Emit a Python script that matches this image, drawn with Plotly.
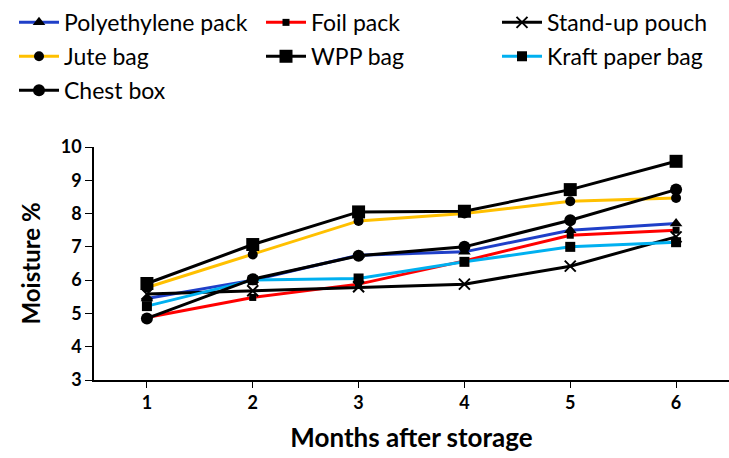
import plotly.graph_objects as go

months = [1, 2, 3, 4, 5, 6]

polyethylene_pack = [5.45, 6.0, 6.75, 6.85, 7.5, 7.7]
foil_pack = [4.88, 5.48, 5.88, 6.58, 7.35, 7.5]
stand_up_pouch = [5.58, 5.68, 5.8, 5.88, 6.42, 7.3]
jute_bag = [5.78, 6.77, 7.78, 8.0, 8.37, 8.47]
wpp_bag = [5.9, 7.07, 8.05, 8.07, 8.72, 9.57]
kraft_paper_bag = [5.22, 6.0, 6.05, 6.55, 7.0, 7.14]
chest_box = [4.85, 6.03, 6.73, 7.0, 7.8, 8.72]

# name, values, line colour, marker symbol, marker size, legend column
series = [
    ("Polyethylene pack", polyethylene_pack, "#1f3fc8", "triangle-up", 11, "legend"),
    ("Foil pack", foil_pack, "#ff0000", "square", 7, "legend2"),
    ("Stand-up pouch", stand_up_pouch, "#000000", "x-thin-open", 11, "legend3"),
    ("Jute bag", jute_bag, "#ffc000", "circle", 10, "legend"),
    ("WPP bag", wpp_bag, "#000000", "square", 13, "legend2"),
    ("Kraft paper bag", kraft_paper_bag, "#00b0f0", "square", 10, "legend3"),
    ("Chest box", chest_box, "#000000", "circle", 12, "legend"),
]

FONT = "Lato"
W, H = 729, 458
ML, MR, MT, MB = 94, 0, 147, 78

fig = go.Figure()
for name, vals, color, symbol, size, leg in series:
    marker = dict(symbol=symbol, size=size, color="#000000")
    if symbol == "x-thin-open":
        marker["line"] = dict(color="#000000", width=2)
    fig.add_trace(go.Scatter(
        x=months, y=vals, name=name, mode="lines+markers",
        line=dict(color=color, width=3),
        marker=marker, legend=leg, legendgroup=name,
    ))


def legend_column(x_px):
    return dict(
        orientation="v", x=x_px / W, y=0.998, xref="container", yref="container",
        xanchor="left", yanchor="top", itemwidth=40,
        font=dict(family=FONT, size=23, color="#000000"),
        tracegroupgap=1, bgcolor="rgba(0,0,0,0)",
    )


fig.update_layout(
    width=W, height=H,
    margin=dict(l=ML, r=MR, t=MT, b=MB, autoexpand=False),
    paper_bgcolor="white", plot_bgcolor="white",
    font=dict(family=FONT, color="#000000"),
    showlegend=True,
    legend=legend_column(14),
    legend2=legend_column(261),
    legend3=legend_column(497),
    xaxis=dict(
        range=[0.5, 6.5], tickvals=months, ticktext=[str(m) for m in months],
        showline=True, linecolor="#000000", linewidth=1.5,
        ticks="outside", ticklen=6, tickcolor="#000000",
        showgrid=False, zeroline=False,
        tickfont=dict(family=FONT, size=18, color="#000000", weight="bold"),
        title=dict(text="<b>Months after storage</b>", font=dict(family=FONT, size=26), standoff=16),
    ),
    yaxis=dict(
        range=[3, 10], dtick=1,
        showline=True, linecolor="#000000", linewidth=1.5,
        ticks="outside", ticklen=7, tickcolor="#000000",
        showgrid=False, zeroline=False,
        tickfont=dict(family=FONT, size=18, color="#000000", weight="bold"),
    ),
    annotations=[dict(
        text="<b>Moisture %</b>", textangle=-90, showarrow=False,
        xref="paper", yref="paper", x=(30 - ML) / (W - ML - MR), y=0.5,
        xanchor="center", yanchor="middle",
        font=dict(family=FONT, size=24, color="#000000"),
    )],
)

fig.write_html("out.html")
